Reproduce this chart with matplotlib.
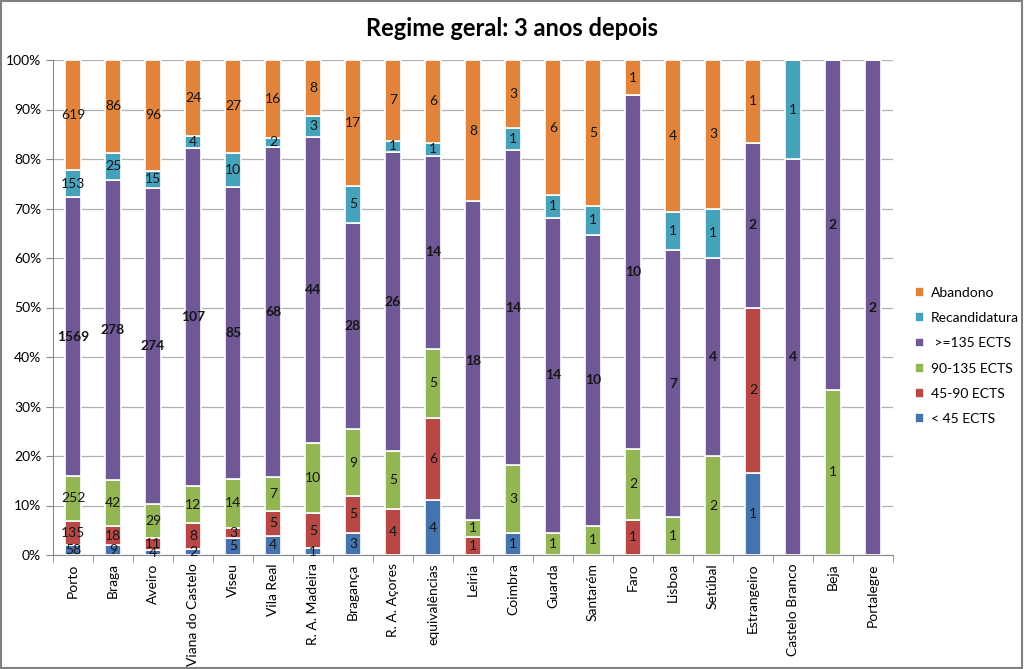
import matplotlib.pyplot as plt
import numpy as np
from matplotlib.patches import Rectangle

plt.rcParams['font.family'] = ['Lato', 'DejaVu Sans']

regions = ["Porto", "Braga", "Aveiro", "Viana do Castelo", "Viseu", "Vila Real",
           "R. A. Madeira", "Bragança", "R. A. Açores", "equivalências", "Leiria",
           "Coimbra", "Guarda", "Santarém", "Faro", "Lisboa", "Setúbal",
           "Estrangeiro", "Castelo Branco", "Beja", "Portalegre"]

lt45 = [58, 9, 4, 2, 5, 4, 1, 3, 0, 4, 0, 1, 0, 0, 0, 0, 0, 1, 0, 0, 0]
e45_90 = [135, 18, 11, 8, 3, 5, 5, 5, 4, 6, 1, 0, 0, 0, 1, 0, 0, 2, 0, 0, 0]
e90_135 = [252, 42, 29, 12, 14, 7, 10, 9, 5, 5, 1, 3, 1, 1, 2, 1, 2, 0, 0, 1, 0]
ge135 = [1569, 278, 274, 107, 85, 68, 44, 28, 26, 14, 18, 14, 14, 10, 10, 7, 4, 2, 4, 2, 2]
recand = [153, 25, 15, 4, 10, 2, 3, 5, 1, 1, 0, 1, 1, 1, 0, 1, 1, 0, 1, 0, 0]
abandono = [619, 86, 96, 24, 27, 16, 8, 17, 7, 6, 8, 3, 6, 5, 1, 4, 3, 1, 0, 0, 0]

series = [
    ("< 45 ECTS", lt45, "#4473AE"),
    ("45-90 ECTS", e45_90, "#B84845"),
    ("90-135 ECTS", e90_135, "#93B552"),
    (" >=135 ECTS", ge135, "#705897"),
    ("Recandidatura", recand, "#46A2BB"),
    ("Abandono", abandono, "#E2833C"),
]

data = np.array([s[1] for s in series], dtype=float)
totals = data.sum(axis=0)
pct = data / totals * 100

fig = plt.figure(figsize=(10.24, 6.69), dpi=100)
ax = fig.add_axes([53 / 1024, 1 - 555 / 669, 840 / 1024, 495 / 669])

x = np.arange(len(regions))
bottom = np.zeros(len(regions))
handles = []
for i, (name, vals, col) in enumerate(series):
    b = ax.bar(x, pct[i], 0.4, bottom=bottom, color=col, edgecolor='white',
               linewidth=1.2, label=name, zorder=3)
    handles.append(b)
    for j, v in enumerate(vals):
        if v == 0:
            continue
        ax.text(x[j], bottom[j] + pct[i][j] / 2, str(v), ha='center', va='center',
                fontsize=10, color='#151515', zorder=4,
                fontweight='bold' if i == 3 else 'normal')
    bottom += pct[i]

ax.set_xlim(-0.5, len(regions) - 0.5)
ax.set_ylim(0, 100)
ax.set_yticks(np.arange(0, 101, 10))
ax.set_yticklabels([f"{v}%" for v in range(0, 101, 10)], fontsize=10)
ax.yaxis.grid(True, color='#b0b0b0', linewidth=0.9, zorder=0)
ax.set_xticks(x)
ax.set_xticklabels(regions, rotation=90, fontsize=10)
ax.set_xticks(np.arange(-0.5, len(regions)), minor=True)
ax.tick_params(axis='x', which='major', length=0, pad=6)
ax.tick_params(axis='x', which='minor', length=5, color='#888888')
ax.tick_params(axis='y', length=5, color='#888888')

for s in ['top', 'right']:
    ax.spines[s].set_visible(False)
for s in ['left', 'bottom']:
    ax.spines[s].set_color('#888888')

fig.suptitle("Regime geral: 3 anos depois", fontsize=17, fontweight='bold', y=0.975)

ax.legend(handles[::-1], [s[0] for s in series][::-1], loc='center left',
          bbox_to_anchor=(902 / 1024, 1 - 356 / 669), bbox_transform=fig.transFigure,
          frameon=False, fontsize=10, handlelength=0.7, handleheight=0.7,
          labelspacing=0.95, handletextpad=0.5)

fig.patches.append(Rectangle((0.001, 0.001), 0.997, 0.997, transform=fig.transFigure,
                             fill=False, edgecolor='#808080', linewidth=1.5))

plt.savefig("out.png")
plt.close()
